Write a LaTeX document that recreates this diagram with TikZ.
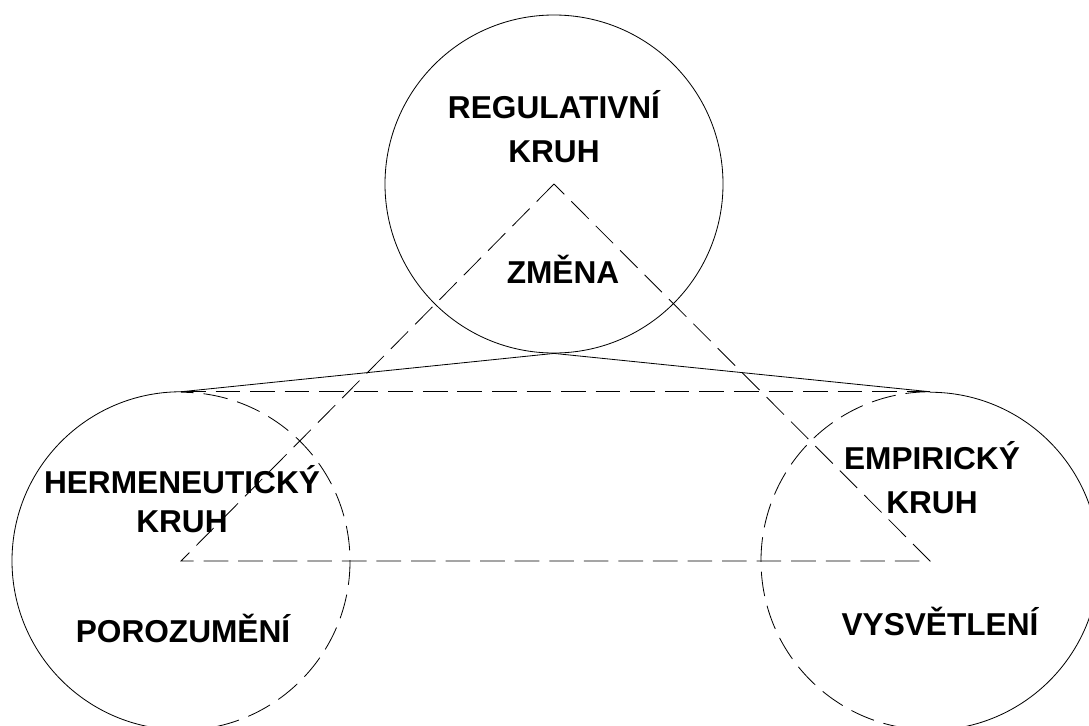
\documentclass[tikz,border=0pt]{standalone}
\usepackage{fontspec}
\setmainfont{Liberation Sans}
\usetikzlibrary{calc}

\begin{document}
\begin{tikzpicture}[x=0.03cm, y=-0.03cm,
  kruh/.style={circle, minimum size=10.14cm, inner sep=0pt},
  rim/.style={line width=0.7pt},
  hidden/.style={line width=0.7pt, dash pattern=on 21pt off 8.5pt},
  lbl/.style={font=\fontsize{27}{37}\selectfont\bfseries, align=center, anchor=base, inner sep=0pt},
]
  \useasboundingbox (0,0) rectangle (1089,726);

  \node[kruh, draw, rim] (reg) at (554,184) {};
  \node[kruh] (herm) at (181,561) {};
  \node[kruh] (emp) at (930,561) {};

  % half solid, half dashed
  \draw[rim] (herm.north) arc[start angle=90, end angle=270, radius=5.07cm];
  \draw[hidden] (herm.south) arc[start angle=-90, end angle=90, radius=5.07cm];
  \draw[rim] (emp.south) arc[start angle=-90, end angle=90, radius=5.07cm];
  \draw[hidden] (emp.north) arc[start angle=90, end angle=270, radius=5.07cm];

  \draw[rim] (herm.north) -- (reg.south) -- (emp.north);
  \draw[hidden] (herm.north) -- (emp.north);
  \draw[hidden] (reg.center) -- (herm.center) -- (emp.center) -- cycle;

  % Labels (base = last line)
  \node[lbl] (lreg) at (554,162) {REGULATIVNÍ\\KRUH};
  \node[lbl] (lzmena) at (563,283) {ZMĚNA};
  \node[lbl, font=\fontsize{27}{33}\selectfont\bfseries] (lherm) at (182,532) {HERMENEUTICKÝ\\KRUH};
  \node[lbl] (lporoz) at (183,642) {POROZUMĚNÍ};
  \node[lbl] (lemp) at (932,513) {EMPIRICKÝ\\KRUH};
  \node[lbl] (lvysv) at (940,635) {VYSVĚTLENÍ};
\end{tikzpicture}
\end{document}
